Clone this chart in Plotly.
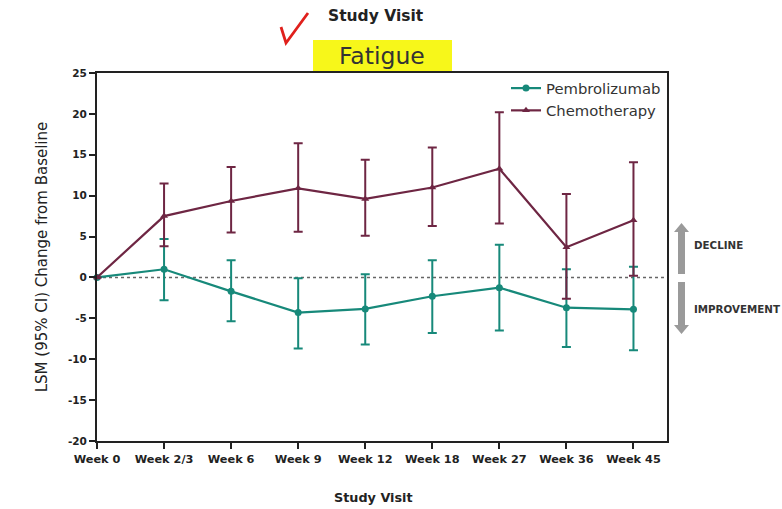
import plotly.graph_objects as go

# ---------------- data ----------------
visits = ["Week 0", "Week 2/3", "Week 6", "Week 9", "Week 12", "Week 18", "Week 27", "Week 36", "Week 45"]

pembro_mean = [0.0, 1.0, -1.7, -4.3, -3.85, -2.3, -1.25, -3.7, -3.9]
pembro_upper = [0.0, 4.7, 2.1, -0.1, 0.4, 2.1, 4.0, 1.0, 1.3]
pembro_lower = [0.0, -2.8, -5.35, -8.7, -8.2, -6.8, -6.5, -8.5, -8.9]

chemo_mean = [0.0, 7.5, 9.35, 10.9, 9.6, 11.0, 13.3, 3.7, 7.0]
chemo_upper = [0.0, 11.5, 13.5, 16.4, 14.4, 15.9, 20.2, 10.2, 14.1]
chemo_lower = [0.0, 3.8, 5.5, 5.6, 5.1, 6.3, 6.6, -2.6, 0.2]

y_ticks = [-20, -15, -10, -5, 0, 5, 10, 15, 20, 25]

TEAL = "#17897a"
MAROON = "#6e2643"
FONT = "DejaVu Sans"

# plot area in pixels (for paper-coordinate decorations)
W, H = 782, 509
L, R, T, B = 97, 115, 73, 68
PW, PH = W - L - R, H - T - B


def px(x):
    return (x - L) / PW


def py(y):
    return (H - B - y) / PH


fig = go.Figure()

fig.add_trace(go.Scatter(
    x=visits, y=pembro_mean, name="Pembrolizumab", mode="lines+markers",
    line=dict(color=TEAL, width=2.2),
    marker=dict(symbol="circle", size=7, color=TEAL),
    error_y=dict(type="data", symmetric=False,
                 array=[u - m for u, m in zip(pembro_upper, pembro_mean)],
                 arrayminus=[m - l for m, l in zip(pembro_mean, pembro_lower)],
                 color=TEAL, thickness=2, width=4.5),
    cliponaxis=False,
))

fig.add_trace(go.Scatter(
    x=visits, y=chemo_mean, name="Chemotherapy", mode="lines+markers",
    line=dict(color=MAROON, width=2.2),
    marker=dict(symbol="triangle-up", size=7, color=MAROON),
    error_y=dict(type="data", symmetric=False,
                 array=[u - m for u, m in zip(chemo_upper, chemo_mean)],
                 arrayminus=[m - l for m, l in zip(chemo_mean, chemo_lower)],
                 color=MAROON, thickness=2, width=4.5),
    cliponaxis=False,
))

shapes = [
    # zero reference line
    dict(type="line", xref="paper", yref="y", x0=0, x1=1, y0=0, y1=0,
         line=dict(color="#666666", width=1.6, dash="dot"), layer="below"),
    # yellow highlight box behind "Fatigue"
    dict(type="rect", xref="paper", yref="paper",
         x0=px(313), x1=px(452), y0=py(71), y1=py(40),
         fillcolor="#f7f71a", line=dict(width=0), layer="below"),
    # red check mark
    dict(type="path", xref="paper", yref="paper",
         path=f"M {px(281)},{py(27)} L {px(286)},{py(43)} L {px(308)},{py(13)}",
         line=dict(color="#e0201c", width=2.8)),
    # up arrow (decline)
    dict(type="path", xref="paper", yref="paper",
         path=(f"M {px(678)},{py(274)} L {px(678)},{py(232)} L {px(674)},{py(232)} "
               f"L {px(681.5)},{py(223)} L {px(689)},{py(232)} L {px(685)},{py(232)} "
               f"L {px(685)},{py(274)} Z"),
         fillcolor="#9a9a9a", line=dict(width=0)),
    # down arrow (improvement)
    dict(type="path", xref="paper", yref="paper",
         path=(f"M {px(678)},{py(282)} L {px(678)},{py(325)} L {px(674)},{py(325)} "
               f"L {px(681.5)},{py(334)} L {px(689)},{py(325)} L {px(685)},{py(325)} "
               f"L {px(685)},{py(282)} Z"),
         fillcolor="#9a9a9a", line=dict(width=0)),
]

annotations = [
    dict(text="<b>Study Visit</b>", xref="paper", yref="paper", x=px(375.5), y=py(16),
         showarrow=False, font=dict(family=FONT, size=15.5, color="#222222"),
         xanchor="center", yanchor="middle"),
    dict(text="Fatigue", xref="paper", yref="paper", x=px(381.5), y=py(56),
         showarrow=False, font=dict(family=FONT, size=23.5, color="#333333"),
         xanchor="center", yanchor="middle"),
    dict(text="<b>DECLINE</b>", xref="paper", yref="paper", x=px(692), y=py(245),
         showarrow=False, font=dict(family=FONT, size=10.3, color="#333333"),
         xanchor="left", yanchor="middle"),
    dict(text="<b>IMPROVEMENT</b>", xref="paper", yref="paper", x=px(692), y=py(309),
         showarrow=False, font=dict(family=FONT, size=10.3, color="#333333"),
         xanchor="left", yanchor="middle"),
    # x-axis title (placed slightly left of centre as in the source)
    dict(text="<b>Study Visit</b>", xref="paper", yref="paper", x=px(373.5), y=py(497),
         showarrow=False, font=dict(family=FONT, size=12.8, color="#222222"),
         xanchor="center", yanchor="middle"),
]

fig.update_layout(
    width=W, height=H,
    margin=dict(l=L, r=R, t=T, b=B, pad=0, autoexpand=False),
    paper_bgcolor="white", plot_bgcolor="white",
    font=dict(family=FONT, color="#222222"),
    shapes=shapes, annotations=annotations,
    showlegend=True,
    legend=dict(x=px(506), y=py(72), xanchor="left", yanchor="top",
                bgcolor="rgba(0,0,0,0)", font=dict(family=FONT, size=14.8, color="#333333"),
                itemwidth=30, tracegroupgap=2),
)

fig.update_xaxes(
    type="category", range=[0, 8.5], automargin=False,
    showline=True, linecolor="#222222", linewidth=2, mirror=True,
    ticks="outside", ticklen=6, tickwidth=2, tickcolor="#222222",
    tickvals=visits, ticktext=[f"<b>{v}</b>" for v in visits],
    tickfont=dict(family=FONT, size=11.3, color="#222222"),
    showgrid=False, zeroline=False,
)

fig.update_yaxes(
    range=[-20, 25], automargin=False,
    showline=True, linecolor="#222222", linewidth=2, mirror=True,
    ticks="outside", ticklen=6, tickwidth=2, tickcolor="#222222",
    tickvals=y_ticks, ticktext=[f"<b>{v}</b>" for v in y_ticks],
    tickfont=dict(family=FONT, size=10.5, color="#222222"),
    showgrid=False, zeroline=False,
    title=dict(text="LSM (95% CI) Change from Baseline", font=dict(family=FONT, size=15, color="#222222"), standoff=17),
)

fig.write_html("out.html")
